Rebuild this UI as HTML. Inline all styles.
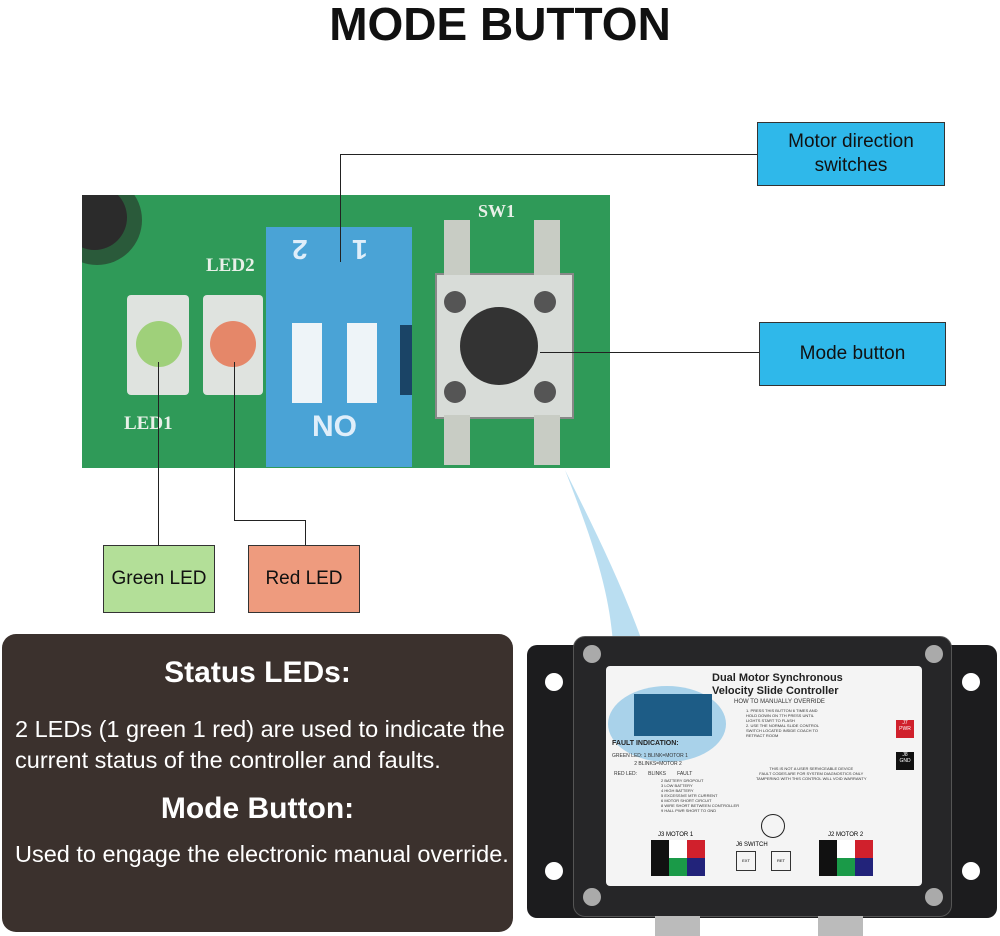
<!DOCTYPE html>
<html><head><meta charset="utf-8"><style>
body{margin:0;width:1000px;height:936px;background:#fff;position:relative;overflow:hidden;font-family:"Liberation Sans",sans-serif}
.a{position:absolute}
.box{position:absolute;border:1px solid #333;display:flex;align-items:center;justify-content:center;text-align:center;font-size:19px;color:#111;line-height:24px}
.ln{position:absolute;background:#222}
.t{position:absolute;font-size:7px;color:#333;line-height:8px}
</style></head><body>
<div class="a" style="left:0;top:-3px;width:1000px;text-align:center;font-size:46px;font-weight:bold;color:#111">MODE BUTTON</div>

<!-- PCB -->
<div class="a" style="left:82px;top:195px;width:528px;height:273px;background:#2f9a58;overflow:hidden">
  <div class="a" style="left:-30px;top:-20px;width:90px;height:90px;border-radius:50%;background:#2a5a3a"></div>
  <div class="a" style="left:-20px;top:-10px;width:65px;height:65px;border-radius:50%;background:#2b2b2b"></div>
  <div class="a" style="left:124px;top:60px;font:bold 19px 'Liberation Serif',serif;color:#e8f0e8">LED2</div>
  <div class="a" style="left:42px;top:218px;font:bold 19px 'Liberation Serif',serif;color:#e8f0e8">LED1</div>
  <div class="a" style="left:396px;top:6px;font:bold 18px 'Liberation Serif',serif;color:#e8f0e8">SW1</div>
  <div class="a" style="left:45px;top:100px;width:62px;height:100px;background:#dfe3df;border-radius:4px"></div>
  <div class="a" style="left:54px;top:126px;width:46px;height:46px;border-radius:50%;background:#9fd07a"></div>
  <div class="a" style="left:121px;top:100px;width:60px;height:100px;background:#dfe3df;border-radius:4px"></div>
  <div class="a" style="left:128px;top:126px;width:46px;height:46px;border-radius:50%;background:#e58769"></div>
  <div class="a" style="left:184px;top:32px;width:146px;height:240px;background:#4aa3d6"></div>
  <div class="a" style="left:210px;top:38px;font:bold 28px 'Liberation Sans',sans-serif;color:#dfeefa;transform:rotate(180deg)">2</div>
  <div class="a" style="left:270px;top:38px;font:bold 28px 'Liberation Sans',sans-serif;color:#dfeefa;transform:rotate(180deg)">1</div>
  <div class="a" style="left:210px;top:128px;width:30px;height:80px;background:#eef4f8"></div>
  <div class="a" style="left:265px;top:128px;width:30px;height:80px;background:#eef4f8"></div>
  <div class="a" style="left:230px;top:215px;font:bold 30px 'Liberation Sans',sans-serif;color:#dfeefa">NO</div>
  <div class="a" style="left:318px;top:130px;width:12px;height:70px;background:#1a4466"></div>
  <div class="a" style="left:353px;top:78px;width:135px;height:142px;background:#d8dcd8;border:2px solid #888"></div>
  <div class="a" style="left:362px;top:25px;width:26px;height:55px;background:#c8ccc4"></div>
  <div class="a" style="left:452px;top:25px;width:26px;height:55px;background:#c8ccc4"></div>
  <div class="a" style="left:362px;top:220px;width:26px;height:50px;background:#c8ccc4"></div>
  <div class="a" style="left:452px;top:220px;width:26px;height:50px;background:#c8ccc4"></div>
  <div class="a" style="left:378px;top:112px;width:78px;height:78px;border-radius:50%;background:#333"></div>
  <div class="a" style="left:362px;top:96px;width:22px;height:22px;border-radius:50%;background:#555"></div>
  <div class="a" style="left:452px;top:96px;width:22px;height:22px;border-radius:50%;background:#555"></div>
  <div class="a" style="left:362px;top:186px;width:22px;height:22px;border-radius:50%;background:#555"></div>
  <div class="a" style="left:452px;top:186px;width:22px;height:22px;border-radius:50%;background:#555"></div>
</div>

<!-- connectors -->
<div class="ln" style="left:340px;top:154px;width:418px;height:1px"></div>
<div class="ln" style="left:340px;top:154px;width:1px;height:108px"></div>
<div class="ln" style="left:540px;top:352px;width:220px;height:1px"></div>
<div class="ln" style="left:158px;top:362px;width:1px;height:184px"></div>
<div class="ln" style="left:234px;top:362px;width:1px;height:158px"></div>
<div class="ln" style="left:234px;top:520px;width:71px;height:1px"></div>
<div class="ln" style="left:305px;top:520px;width:1px;height:26px"></div>

<div class="box" style="left:757px;top:122px;width:186px;height:62px;background:#2fb8ea">Motor direction<br>switches</div>
<div class="box" style="left:759px;top:322px;width:185px;height:62px;background:#2fb8ea">Mode button</div>
<div class="box" style="left:103px;top:545px;width:110px;height:66px;background:#b3df98">Green LED</div>
<div class="box" style="left:248px;top:545px;width:110px;height:66px;background:#ee9b7e">Red LED</div>

<!-- dark panel -->
<div class="a" style="left:2px;top:634px;width:511px;height:298px;background:#3b312d;border-radius:14px;color:#fff">
  <div class="a" style="left:0;top:22px;width:511px;text-align:center;font-size:30px;font-weight:bold">Status LEDs:</div>
  <div class="a" style="left:13px;top:80px;font-size:23.5px;line-height:31px;white-space:nowrap">2 LEDs (1 green 1 red) are used to indicate the<br>current status of the controller and faults.</div>
  <div class="a" style="left:0;top:158px;width:511px;text-align:center;font-size:30px;font-weight:bold">Mode Button:</div>
  <div class="a" style="left:13px;top:207px;font-size:23.5px;white-space:nowrap">Used to engage the electronic manual override.</div>
</div>

<!-- controller -->
<svg class="a" style="left:0;top:0" width="1000" height="936">
  <path d="M565 470 C600 560 620 620 612 700 L660 700 C640 620 600 540 565 470Z" fill="#a9d6ee" opacity="0.8"/>
</svg>
<div class="a" style="left:527px;top:645px;width:470px;height:273px;background:#1c1c1e;border-radius:10px"></div>
<div class="a" style="left:545px;top:673px;width:18px;height:18px;border-radius:50%;background:#fff"></div>
<div class="a" style="left:962px;top:673px;width:18px;height:18px;border-radius:50%;background:#fff"></div>
<div class="a" style="left:545px;top:862px;width:18px;height:18px;border-radius:50%;background:#fff"></div>
<div class="a" style="left:962px;top:862px;width:18px;height:18px;border-radius:50%;background:#fff"></div>
<div class="a" style="left:573px;top:636px;width:377px;height:279px;background:#262628;border-radius:12px;border:1px solid #555"></div>
<div class="a" style="left:583px;top:645px;width:18px;height:18px;border-radius:50%;background:#aaa"></div>
<div class="a" style="left:925px;top:645px;width:18px;height:18px;border-radius:50%;background:#aaa"></div>
<div class="a" style="left:583px;top:888px;width:18px;height:18px;border-radius:50%;background:#aaa"></div>
<div class="a" style="left:925px;top:888px;width:18px;height:18px;border-radius:50%;background:#aaa"></div>
<div class="a" style="left:606px;top:666px;width:316px;height:220px;background:#f4f4f4;border-radius:4px;overflow:hidden">
  <div class="a" style="left:2px;top:20px;width:118px;height:76px;border-radius:50%;background:#a9d2ea"></div>
  <div class="a" style="left:28px;top:28px;width:78px;height:42px;background:#1d5c86"></div>
  <div class="a" style="left:106px;top:6px;font-size:11px;font-weight:bold;line-height:13px;color:#222">Dual Motor Synchronous<br>Velocity Slide Controller</div>
  <div class="a" style="left:128px;top:33px;font-size:6px;color:#333">HOW TO MANUALLY OVERRIDE</div>
  <div class="t" style="left:140px;top:42px;font-size:4px;line-height:5px">1. PRESS THIS BUTTON 6 TIMES AND<br>HOLD DOWN ON 7TH PRESS UNTIL<br>LIGHTS START TO FLASH<br>2. USE THE NORMAL SLIDE CONTROL<br>SWITCH LOCATED INSIDE COACH TO<br>RETRACT ROOM</div>
  <div class="a" style="left:6px;top:74px;font-size:7px;font-weight:bold;color:#222">FAULT INDICATION:</div>
  <div class="t" style="left:6px;top:86px;font-size:5px">GREEN LED: 1 BLINK=MOTOR 1<br>&nbsp;&nbsp;&nbsp;&nbsp;&nbsp;&nbsp;&nbsp;&nbsp;&nbsp;&nbsp;&nbsp;&nbsp;&nbsp;&nbsp;&nbsp;&nbsp;2 BLINKS=MOTOR 2</div>
  <div class="t" style="left:8px;top:104px;font-size:5px">RED LED:&nbsp;&nbsp;&nbsp;&nbsp;&nbsp;&nbsp;&nbsp;&nbsp;BLINKS&nbsp;&nbsp;&nbsp;&nbsp;&nbsp;&nbsp;&nbsp;&nbsp;FAULT</div>
  <div class="t" style="left:55px;top:112px;font-size:4px;line-height:5px">2 BATTERY DROPOUT<br>3 LOW BATTERY<br>4 HIGH BATTERY<br>5 EXCESSIVE MTR CURRENT<br>6 MOTOR SHORT CIRCUIT<br>8 WIRE SHORT BETWEEN CONTROLLER<br>9 HALL PWR SHORT TO GND</div>
  <div class="t" style="left:150px;top:100px;font-size:4px;line-height:5px;text-align:center">THIS IS NOT A USER SERVICEABLE DEVICE<br>FAULT CODES ARE FOR SYSTEM DIAGNOSTICS ONLY<br>TAMPERING WITH THIS CONTROL WILL VOID WARRANTY</div>
  <div class="a" style="left:290px;top:54px;width:18px;height:18px;background:#d0202c;color:#fff;font-size:5px;text-align:center">J7<br>PWR</div>
  <div class="a" style="left:290px;top:86px;width:18px;height:18px;background:#111;color:#fff;font-size:5px;text-align:center">J8<br>GND</div>
  <div class="a" style="left:155px;top:148px;width:22px;height:22px;border-radius:50%;border:1px solid #222"></div>
  <div class="a" style="left:130px;top:176px;font-size:6px">J6 SWITCH</div>
  <div class="a" style="left:130px;top:185px;width:18px;height:18px;border:1px solid #333;font-size:4px;line-height:18px;text-align:center">EXT</div>
  <div class="a" style="left:165px;top:185px;width:18px;height:18px;border:1px solid #333;font-size:4px;line-height:18px;text-align:center">RET</div>
  <div class="a" style="left:52px;top:166px;font-size:6px">J3 MOTOR 1</div>
  <div class="a" style="left:45px;top:174px;width:18px;height:18px;background:#111"></div><div class="a" style="left:63px;top:174px;width:18px;height:18px;background:#fff"></div><div class="a" style="left:81px;top:174px;width:18px;height:18px;background:#d0202c"></div>
  <div class="a" style="left:45px;top:192px;width:18px;height:18px;background:#111"></div><div class="a" style="left:63px;top:192px;width:18px;height:18px;background:#1a9a48"></div><div class="a" style="left:81px;top:192px;width:18px;height:18px;background:#22237a"></div>
  <div class="a" style="left:222px;top:166px;font-size:6px">J2 MOTOR 2</div>
  <div class="a" style="left:213px;top:174px;width:18px;height:18px;background:#111"></div><div class="a" style="left:231px;top:174px;width:18px;height:18px;background:#fff"></div><div class="a" style="left:249px;top:174px;width:18px;height:18px;background:#d0202c"></div>
  <div class="a" style="left:213px;top:192px;width:18px;height:18px;background:#111"></div><div class="a" style="left:231px;top:192px;width:18px;height:18px;background:#1a9a48"></div><div class="a" style="left:249px;top:192px;width:18px;height:18px;background:#22237a"></div>
</div>
<div class="a" style="left:655px;top:916px;width:45px;height:20px;background:#bbb"></div>
<div class="a" style="left:818px;top:916px;width:45px;height:20px;background:#bbb"></div>
</body></html>
